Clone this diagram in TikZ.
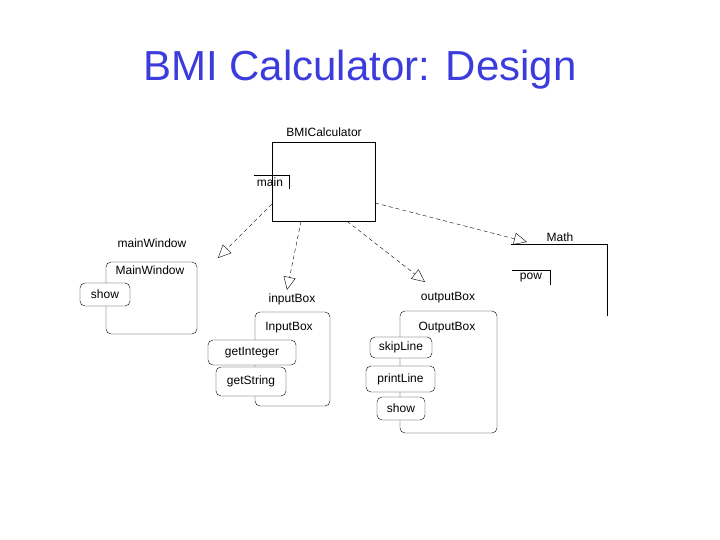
\documentclass[tikz,border=0pt]{standalone}
\usepackage{fontspec}
\setmainfont{Liberation Sans}
\usepackage{xcolor}
\usetikzlibrary{arrows.meta}
\definecolor{titleblue}{RGB}{60,60,220}

\begin{document}
\begin{tikzpicture}[x=1pt,y=1pt,yscale=-1,xscale=1,
  lbl/.style={inner sep=0.75pt,font=\fontsize{12}{14}\selectfont},
  rbox/.style={draw,rounded corners=5pt,inner sep=0pt},
  dep/.style={draw,dashed,dash pattern=on 4pt off 3pt,-{Triangle[open,length=13pt,width=12pt]}}]

\useasboundingbox (0,0) rectangle (720,540);

\node[text=titleblue,font=\fontsize{42}{48}\selectfont] (title) at (360,70) {BMI Calculator: Design};

% BMICalculator
\node[draw,minimum width=103,minimum height=79,inner sep=0pt] (calc) at (323.5,181.5) {};
\node[lbl] (calcname) at (324,132) {BMICalculator};
\draw (254,175) -- (289,175) -- (289,189);
\node[lbl] (main) at (270,182) {main};

% mainWindow
\node[lbl] (mwname) at (152,243) {mainWindow};
\node[rbox,minimum width=91,minimum height=72] (mw) at (151.5,298) {};
\node[lbl] (mwtype) at (150,270) {MainWindow};
\node[rbox,fill=white,minimum width=50,minimum height=23] (mwshow) at (105,294.5) {};
\node[lbl] at (mwshow) {show};

% inputBox
\node[lbl] (ibname) at (292,299) {inputBox};
\node[rbox,minimum width=75,minimum height=94] (ib) at (292.5,359) {};
\node[lbl] (ibtype) at (289,328) {InputBox};
\node[rbox,fill=white,minimum width=88,minimum height=25] (getint) at (252,352.5) {};
\node[lbl] at (getint) {getInteger};
\node[rbox,fill=white,minimum width=70,minimum height=29] (getstr) at (251,381.5) {};
\node[lbl] at (getstr) {getString};

% outputBox
\node[lbl] (obname) at (448,298) {outputBox};
\node[rbox,minimum width=97,minimum height=122] (ob) at (448.5,372) {};
\node[lbl] (obtype) at (447,328) {OutputBox};
\node[rbox,fill=white,minimum width=62,minimum height=21] (skip) at (401,347.5) {};
\node[lbl] at (skip) {skipLine};
\node[rbox,fill=white,minimum width=69,minimum height=26] (print) at (400.5,379) {};
\node[lbl] at (print) {printLine};
\node[rbox,fill=white,minimum width=48,minimum height=23] (obshow) at (401,408.5) {};
\node[lbl] at (obshow) {show};

% Math
\node[lbl] (mathname) at (560,237) {Math};
\coordinate (mathtl) at (511,244);
\draw (mathtl) -- (607,244) -- (607,316);
\draw (512,270) -- (550,270) -- (550,285);
\node[lbl] (pow) at (531,278) {pow};

% dependencies
\coordinate (mwtip) at (218,258);
\coordinate (ibtip) at (287,290);
\coordinate (obtip) at (425,282);
\coordinate (mathtip) at (527,242);
\path[dep] (calc.west |- 0,204) -- (mwtip);
\path[dep] (calc.south -| 301,0) -- (ibtip);
\path[dep] (calc.south -| 347,0) -- (obtip);
\path[dep] (calc.east |- 0,203) -- (mathtip);

\end{tikzpicture}
\end{document}
